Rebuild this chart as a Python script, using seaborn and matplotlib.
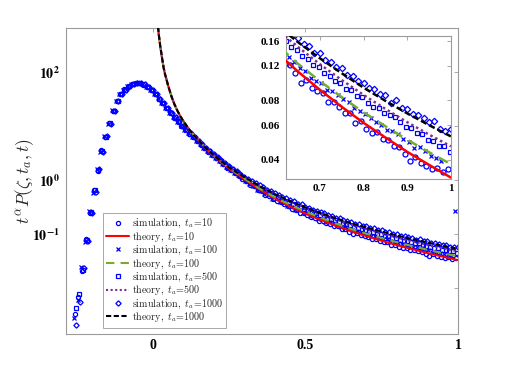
import numpy as np
import seaborn as sns
import matplotlib
matplotlib.use('Agg')
import matplotlib.pyplot as plt

sns.set_style('white')
plt.rcParams['mathtext.fontset'] = 'cm'
plt.rcParams['font.family'] = ['Liberation Serif', 'DejaVu Serif']

# simulation bins (step 0.0125 up to 1), each run's bins shifted a little
sim_x = np.round(np.arange(-0.25, 1.0001, 0.0125), 4)
sim_shift = [-0.006, -0.009, -0.003, 0.0]

sim_10 = [0.0033, 0.0068, 0.020, 0.080, 0.24, 0.66, 1.45, 3.5, 6.1, 11.4, 18.5, 29.5, 38.5, 47.5, 53.5, 59.5, 61.5,
          62.5, 58.5, 53.5, 45.5, 39.5, 31.5, 26.8, 21.2, 17.8, 14.2, 12.1, 9.8, 8.6, 7.1, 6.2, 5.2,
          4.5, 3.85, 3.32, 2.88, 2.52, 2.2, 1.93, 1.69, 1.49, 1.32, 1.17, 1.04,
          0.94, 0.80, 0.76, 0.65, 0.61, 0.53, 0.51, 0.45, 0.40, 0.39, 0.35, 0.33, 0.29, 0.28, 0.245, 0.245,
          0.222, 0.203, 0.198, 0.176, 0.172, 0.157, 0.154, 0.139, 0.137, 0.122, 0.121, 0.110, 0.098, 0.102,
          0.093, 0.089, 0.0875, 0.0785, 0.0790, 0.0745, 0.0690, 0.0690, 0.0615, 0.0630, 0.0575, 0.0550,
          0.0555, 0.0510, 0.0505, 0.0470, 0.0465, 0.0430, 0.0395, 0.0415, 0.0385, 0.0370, 0.0358, 0.0365,
          0.0345, 0.0360]
sim_100 = [0.0027, 0.0060, 0.024, 0.071, 0.26, 0.58, 1.62, 3.3, 6.5, 10.7, 19.4, 28.6, 39.4, 46.6, 54.4, 58.6, 62.4,
           61.6, 59.4, 52.6, 46.4, 38.6, 32.4, 26.2, 21.8, 17.3, 14.7, 11.9, 10.1, 8.4, 7.3, 6.3, 5.35,
           4.55, 3.9, 3.36, 2.92, 2.56, 2.25, 1.97, 1.73, 1.53, 1.36, 1.21, 1.07,
           0.95, 0.82, 0.77, 0.66, 0.63, 0.54, 0.52, 0.45, 0.44, 0.38, 0.37, 0.325, 0.32, 0.28, 0.275, 0.245,
           0.24, 0.215, 0.212, 0.19, 0.186, 0.168, 0.166, 0.150, 0.148, 0.134, 0.133, 0.125, 0.117, 0.113,
           0.104, 0.101, 0.098, 0.090, 0.089, 0.085, 0.081, 0.079, 0.073, 0.071, 0.0685, 0.0655,
           0.0625, 0.060, 0.0565, 0.0560, 0.0540, 0.0510, 0.0490, 0.0460, 0.0465, 0.0445, 0.0420, 0.0410,
           0.0395, 0.26]
sim_500 = [0.0042, 0.0075, 0.021, 0.078, 0.255, 0.64, 1.50, 3.45, 6.2, 11.2, 18.8, 29.2, 38.8, 47.2, 53.8, 59.2, 61.8,
           62.2, 58.8, 53.2, 45.8, 39.2, 31.8, 26.6, 21.4, 17.6, 14.4, 12.0, 9.9, 8.5, 7.2, 6.15, 5.25,
           4.55, 3.9, 3.38, 2.94, 2.58, 2.28, 2.0, 1.76, 1.56, 1.39, 1.24, 1.11,
           0.97, 0.88, 0.80, 0.72, 0.67, 0.60, 0.56, 0.51, 0.48, 0.44, 0.41, 0.38, 0.36, 0.33, 0.315, 0.29,
           0.272, 0.255, 0.238, 0.226, 0.210, 0.200, 0.187, 0.179, 0.166, 0.160, 0.149, 0.144, 0.135, 0.130,
           0.121, 0.118, 0.110, 0.107, 0.100, 0.098, 0.092, 0.090, 0.084, 0.083, 0.078, 0.0745,
           0.0735, 0.0690, 0.0675, 0.0660, 0.0625, 0.0590, 0.0580, 0.0550, 0.0540, 0.0505, 0.0500, 0.0470,
           0.0470, 0.0440]
sim_1000 = [0.0020, 0.0055, 0.023, 0.073, 0.245, 0.60, 1.58, 3.35, 6.4, 10.9, 19.2, 28.8, 39.2, 46.8, 54.2, 58.8, 62.2,
            61.8, 59.2, 52.8, 46.2, 38.8, 32.2, 26.4, 21.6, 17.4, 14.6, 12.1, 10.0, 8.55, 7.25, 6.25, 5.3,
            4.6, 3.95, 3.42, 2.97, 2.62, 2.32, 2.04, 1.80, 1.60, 1.43, 1.28, 1.14,
            1.05, 0.95, 0.87, 0.79, 0.74, 0.66, 0.62, 0.56, 0.53, 0.48, 0.46, 0.415, 0.40, 0.36, 0.35, 0.315,
            0.305, 0.28, 0.27, 0.25, 0.240, 0.222, 0.214, 0.200, 0.193, 0.181, 0.172, 0.166, 0.155, 0.152,
            0.140, 0.139, 0.128, 0.126, 0.118, 0.117, 0.108, 0.107, 0.100, 0.098, 0.0925, 0.092,
            0.086, 0.085, 0.078, 0.0800, 0.0735, 0.0725, 0.0680, 0.0675, 0.0650, 0.0625, 0.0630, 0.0575,
            0.0560, 0.0570]

# theory curves
th_x = [0.015, 0.02, 0.025, 0.03, 0.035, 0.04, 0.05, 0.06, 0.07, 0.08, 0.09, 0.10, 0.12, 0.14, 0.16, 0.18, 0.20,
        0.25, 0.30, 0.35, 0.40, 0.45, 0.50, 0.55, 0.60, 0.65, 0.70, 0.75, 0.80, 0.85, 0.90, 0.95, 1.00]
th_10 = [950, 480, 290, 190, 125, 92, 57, 37, 26, 19.5, 15.2, 12.3, 8.5, 6.2, 4.7, 3.54, 2.77,
         1.62, 1.03, 0.662, 0.450, 0.322, 0.238, 0.181, 0.141, 0.112, 0.0906, 0.0743, 0.0616, 0.0519, 0.0439,
         0.0377, 0.0325]
th_100 = [950, 480, 290, 190, 125, 92, 57, 37, 26, 19.5, 15.2, 12.3, 8.5, 6.2, 4.7, 3.56, 2.80,
          1.64, 1.06, 0.689, 0.475, 0.345, 0.258, 0.198, 0.1545, 0.1227, 0.1003, 0.0832, 0.0697, 0.0592, 0.0506,
          0.0437, 0.038]
th_500 = [950, 480, 290, 190, 125, 92, 57, 37, 26, 19.5, 15.2, 12.3, 8.5, 6.2, 4.7, 3.58, 2.83,
          1.68, 1.11, 0.750, 0.533, 0.398, 0.302, 0.234, 0.185, 0.1493, 0.1222, 0.1016, 0.0853, 0.0725, 0.0621,
          0.0537, 0.0468]
th_1000 = [950, 480, 290, 190, 125, 92, 57, 37, 26, 19.5, 15.2, 12.3, 8.5, 6.2, 4.7, 3.6, 2.85,
           1.70, 1.133, 0.765, 0.544, 0.403, 0.308, 0.242, 0.194, 0.158, 0.131, 0.110, 0.0929, 0.0797, 0.0688,
           0.0600, 0.0526]

ta_values = [10, 100, 500, 1000]
sim_sets = [sim_10, sim_100, sim_500, sim_1000]
th_sets = [th_10, th_100, th_500, th_1000]
markers = ['o', 'x', 's', 'D']
marker_scale = [1.0, 0.75, 0.9, 0.9]
line_colors = ['#FF0000', '#77AC30', '#7E2F8E', '#000000']
line_dashes = ['-', (0, (4, 3)), (0, (1, 1.2)), (0, (2.5, 1.2))]
GRAY = '#9a9a9a'


def draw(ax, ms, lw):
    for ta, ys, dx, mk, sc, th, col, ls in zip(ta_values, sim_sets, sim_shift, markers, marker_scale,
                                               th_sets, line_colors, line_dashes):
        sns.lineplot(x=sim_x + dx, y=ys, ax=ax, marker=mk, linestyle='', color='blue',
                     markerfacecolor='none', markeredgecolor='blue', ms=ms * sc,
                     markeredgewidth=0.9, label=r'$\mathrm{simulation,}\ t_a\!=\!%d$' % ta,
                     estimator=None, sort=False, zorder=2)
        sns.lineplot(x=th_x, y=th, ax=ax, color=col, linestyle=ls, lw=lw,
                     label=r'$\mathrm{theory,}\ t_a\!=\!%d$' % ta,
                     estimator=None, sort=False, zorder=3)


def style_axes(ax, size):
    for sp in ax.spines.values():
        sp.set_color(GRAY)
        sp.set_linewidth(0.8)
    ax.tick_params(which='major', direction='in', top=True, right=True, length=3, width=0.6,
                   color=GRAY, labelcolor='black', labelsize=size, pad=4)
    ax.minorticks_off()


fig = plt.figure(figsize=(5.06, 3.75), dpi=100)
ax = fig.add_axes([0.13, 0.11, 0.775, 0.815])
draw(ax, 3.0, 1.5)
ax.set_yscale('log')
ax.set_xlim(-0.285, 1.0)
ax.set_ylim(0.0014, 650)
style_axes(ax, 10)
ax.set_xticks([0, 0.5, 1])
ax.set_xticklabels(['0', '0.5', '1'], fontweight='bold')
ax.set_yticks([0.01, 0.1, 1, 10, 100])
ax.set_yticklabels(['', r'$\mathbf{10^{-1}}$', r'$\mathbf{10^{0}}$', '', r'$\mathbf{10^{2}}$'],
                   math_fontfamily='stix')
ax.minorticks_off()
ax.set_xlabel('')
ax.set_ylabel(r'$t^{\alpha}P(\zeta, t_a, t)$', fontsize=12.5)
ax.yaxis.set_label_coords(-0.075, 0.5)

handles, labels = ax.get_legend_handles_labels()
leg = ax.legend(handles, labels, loc='lower left', bbox_to_anchor=(0.094, 0.02), fontsize=7.2,
                frameon=True, fancybox=False, framealpha=1, edgecolor=GRAY, handlelength=2.3,
                handletextpad=0.3, labelspacing=0.0, borderpad=0.35, borderaxespad=0)
leg.get_frame().set_linewidth(0.6)

# inset
axins = fig.add_axes([0.565, 0.523, 0.326, 0.381])
draw(axins, 3.6, 1.8)
axins.set_yscale('log')
axins.set_xlim(0.622, 1.0)
axins.set_ylim(0.032, 0.17)
style_axes(axins, 8)
axins.set_xticks([0.7, 0.8, 0.9, 1.0])
axins.set_xticklabels(['0.7', '0.8', '0.9', '1'], fontweight='bold')
axins.set_yticks([0.04, 0.06, 0.08, 0.12, 0.16])
axins.set_yticklabels(['0.04', '0.06', '0.08', '0.12', '0.16'], fontweight='bold')
axins.minorticks_off()
axins.set_xlabel('')
axins.set_ylabel('')
if axins.get_legend() is not None:
    axins.get_legend().remove()

fig.savefig('out.png', dpi=100)
